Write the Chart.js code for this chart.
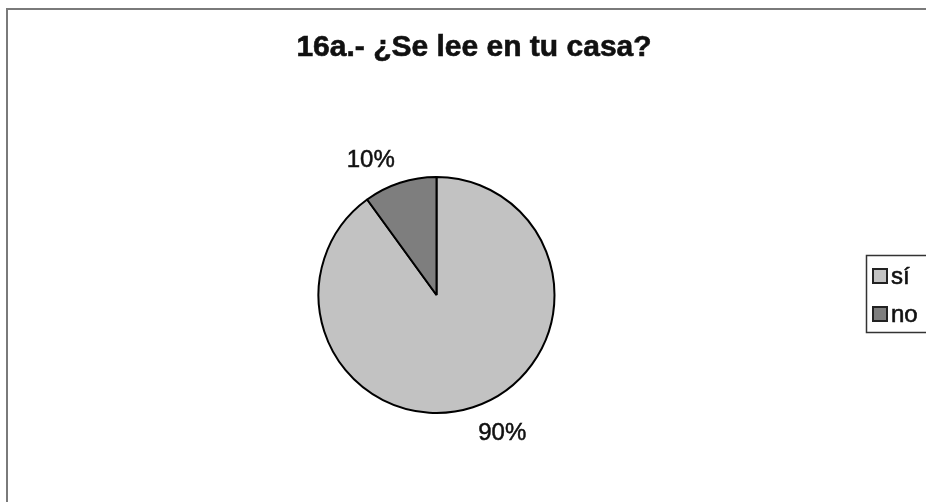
<!DOCTYPE html>
<html>
<head>
<meta charset="utf-8">
<script src="https://cdn.jsdelivr.net/npm/chart.js@4.4.0/dist/chart.umd.min.js"></script>
<style>
html,body{margin:0;padding:0;background:#fff;}
#wrap{width:926px;height:502px;position:relative;}
</style>
</head>
<body>
<div id="wrap"><canvas id="c" width="926" height="502"></canvas></div>
<script>
const titleText = "16a.- ¿Se lee en tu casa?";
const categories = ["sí", "no"];
const values = [90, 10];
const percentLabels = ["90%", "10%"];
const sliceColors = ["#c2c2c2", "#7e7e7e"];

const FONT = "'Liberation Sans', Arial, sans-serif";

function heavyText(ctx, txt, x, y, sw) {
  ctx.fillText(txt, x, y);
  ctx.lineWidth = sw;
  ctx.strokeStyle = ctx.fillStyle;
  ctx.strokeText(txt, x, y);
}

const decorPlugin = {
  id: 'decor',
  beforeDraw(chart) {
    const ctx = chart.ctx;
    ctx.save();
    ctx.fillStyle = '#fff';
    ctx.fillRect(0, 0, chart.width, chart.height);
    // frame (left and top edges visible)
    ctx.strokeStyle = '#7a7a7a';
    ctx.lineWidth = 2;
    ctx.beginPath();
    ctx.moveTo(7, chart.height + 5);
    ctx.lineTo(7, 9);
    ctx.lineTo(chart.width + 5, 9);
    ctx.stroke();
    // title
    ctx.fillStyle = '#111';
    ctx.font = "bold 30px " + FONT;
    ctx.textAlign = 'center';
    ctx.textBaseline = 'alphabetic';
    heavyText(ctx, titleText, 474, 56, 0.6);
    ctx.restore();
  },
  afterDraw(chart) {
    const ctx = chart.ctx;
    const meta = chart.getDatasetMeta(0);
    ctx.save();
    ctx.font = "24px " + FONT;
    ctx.fillStyle = '#111';
    ctx.textAlign = 'center';
    ctx.textBaseline = 'alphabetic';
    meta.data.forEach((arc, i) => {
      const p = arc.getProps(['x', 'y', 'startAngle', 'endAngle', 'outerRadius'], true);
      const mid = (p.startAngle + p.endAngle) / 2;
      const c = Math.cos(mid), s = Math.sin(mid);
      const d = p.outerRadius + 17;
      const ax = p.x + c * d, ay = p.y + s * d;
      const w = ctx.measureText(percentLabels[i]).width;
      const h = 17;
      const cx = ax + Math.sign(c) * w / 2;
      const cy = ay + Math.sign(s) * h / 2;
      heavyText(ctx, percentLabels[i], cx, cy + h / 2, 0.5);
    });
    // legend
    ctx.strokeStyle = '#333';
    ctx.lineWidth = 1.5;
    ctx.strokeRect(866.5, 255.5, 80, 77);
    ctx.font = "24px " + FONT;
    ctx.textAlign = 'left';
    ctx.textBaseline = 'middle';
    categories.forEach((cat, i) => {
      const y = 269 + i * 38;
      ctx.fillStyle = sliceColors[i];
      ctx.fillRect(873, y, 14, 14);
      ctx.strokeStyle = '#222';
      ctx.lineWidth = 2;
      ctx.strokeRect(873, y, 14, 14);
      ctx.fillStyle = '#111';
      heavyText(ctx, cat, 891, y + 8, 0.6);
    });
    ctx.restore();
  }
};

new Chart(document.getElementById('c'), {
  type: 'pie',
  data: {
    labels: categories,
    datasets: [{
      data: values,
      backgroundColor: sliceColors,
      borderColor: '#000',
      borderWidth: 2
    }]
  },
  options: {
    responsive: false,
    animation: false,
    devicePixelRatio: 1,
    radius: 118,
    layout: { padding: { left: 0, right: 53, top: 88, bottom: 0 } },
    plugins: {
      legend: { display: false },
      title: { display: false },
      tooltip: { enabled: false }
    }
  },
  plugins: [decorPlugin]
});
</script>
</body>
</html>
